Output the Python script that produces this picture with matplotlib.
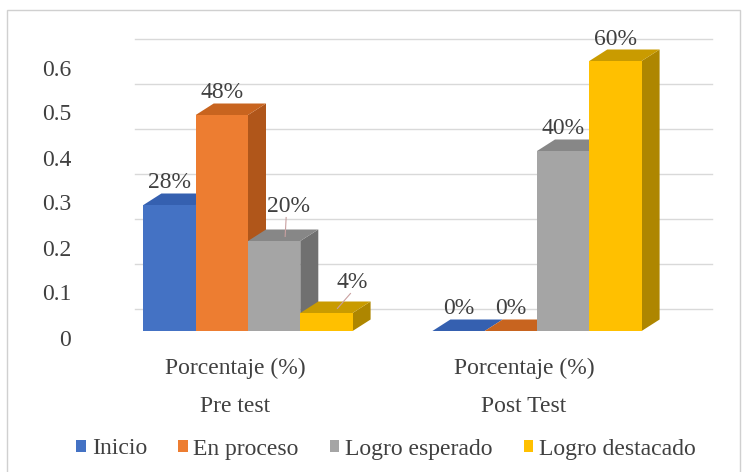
import matplotlib
matplotlib.use("Agg")
import matplotlib.pyplot as plt
from matplotlib.patches import Polygon, Patch, Rectangle
from matplotlib.font_manager import FontProperties

# ---- data ----
groups = ["Pre test", "Post Test"]
subcat = "Porcentaje (%)"
series = ["Inicio", "En proceso", "Logro esperado", "Logro destacado"]
pre_values = [0.28, 0.48, 0.20, 0.04]
post_values = [0.0, 0.0, 0.40, 0.60]
value_labels_pre = ["28%", "48%", "20%", "4%"]
value_labels_post = ["0%", "0%", "40%", "60%"]
yticks = [0, 0.1, 0.2, 0.3, 0.4, 0.5, 0.6]
ytick_labels = ["0", "0.1", "0.2", "0.3", "0.4", "0.5", "0.6"]

# ---- style ----
front_c = ["#4472C4", "#ED7D31", "#A5A5A5", "#FFC000"]
top_c = ["#3560B0", "#C8641F", "#878787", "#C99B00"]
side_c = ["#2D5096", "#B0561A", "#707070", "#AE8600"]
txt_c = "#404040"
FONT = ["Liberation Serif", "DejaVu Serif"]
plt.rcParams["font.family"] = FONT
FS = 17

def fp(size=FS):
    return FontProperties(family=FONT, size=size)

W, H = 750, 472
fig = plt.figure(figsize=(7.5, 4.72), dpi=100)
ax = fig.add_axes([0, 0, 1, 1])

# pixel mapping helpers (x: group index units, y: value units)
X0, XS = 248.0, 289.0     # pixel of group 0 center, pixels per group
Y0, YS = 331.0, 450.0     # pixel (from top) of value 0, pixels per unit
ax.set_xlim((0 - X0) / XS, (W - X0) / XS)
ax.set_ylim((Y0 - H) / YS, Y0 / YS)
ax.axis("off")

def px(dx):
    return dx / XS

def py(dy):
    return dy / YS

bw = px(52.3)
DX, DY = px(18), py(11.5)

# back-wall gridlines
for v in yticks:
    ax.plot([px(135 - X0), px(712 - X0)], [v + py(22), v + py(22)],
            color="#D9D9D9", lw=1.0, zorder=1)

# tick labels
for v, lab in zip(yticks, ytick_labels):
    ax.text(px(71 - X0), v - py(9), lab, ha="right", va="center",
            fontproperties=fp(), color=txt_c)

all_values = [pre_values, post_values]
all_labels = [value_labels_pre, value_labels_post]
lab_dx = [[0, 0, 14, 26], [0, 0, 0, 0]]
lab_dy = [[0, 0, 13, 9], [0, 0, 0, 0]]

for g, vals in enumerate(all_values):
    for i, v in enumerate(vals):
        x0 = g + (i - 2) * bw
        x1 = x0 + bw
        # side face
        ax.add_patch(Polygon([(x1, 0), (x1, v), (x1 + DX, v + DY), (x1 + DX, DY)],
                             closed=True, fc=side_c[i], ec="none", zorder=2 + i * 0.1))
        # top face
        ax.add_patch(Polygon([(x0, v), (x1, v), (x1 + DX, v + DY), (x0 + DX, v + DY)],
                             closed=True, fc=top_c[i], ec="none", zorder=2 + i * 0.1))
        # front face
        ax.bar(x0, v, width=bw, align="edge", color=front_c[i],
               edgecolor="none", zorder=2.05 + i * 0.1)
        # value label
        lx = x0 + bw / 2 + px(lab_dx[g][i])
        ly = v + DY + py(lab_dy[g][i])
        ax.text(lx, ly, all_labels[g][i], ha="center", va="bottom",
                fontproperties=fp(17), color=txt_c, zorder=5)
        if lab_dx[g][i] != 0:
            ax.plot([lx - px(2), x0 + bw / 2 + DX / 2 + px(2)],
                    [ly - py(1), v + DY * 0.4],
                    color="#C9A0A0", lw=0.8, zorder=5)

# category labels
for g, name in enumerate(groups):
    ax.text(g - px(13), py(Y0 - 368), subcat, ha="center", va="center",
            fontproperties=fp(), color=txt_c)
    ax.text(g - px(13), py(Y0 - 406), name, ha="center", va="center",
            fontproperties=fp(), color=txt_c)

# legend
handles = [Patch(facecolor=c, edgecolor="none") for c in front_c]
leg = fig.legend(handles, series, loc="center",
                 bbox_to_anchor=(386 / W, 1 - 449 / H),
                 ncol=4, frameon=False, prop=fp(),
                 handlelength=0.42, handleheight=0.42, handletextpad=0.25,
                 columnspacing=1.3, borderaxespad=0, borderpad=0)
for t in leg.get_texts():
    t.set_color(txt_c)

# chart border
fig.add_artist(Rectangle((7 / W, -0.01), (740 - 7) / W, (H - 10) / H + 0.01,
                         transform=fig.transFigure, fill=False,
                         ec="#D0D0D0", lw=1.0))

fig.savefig("out.png", dpi=100)
